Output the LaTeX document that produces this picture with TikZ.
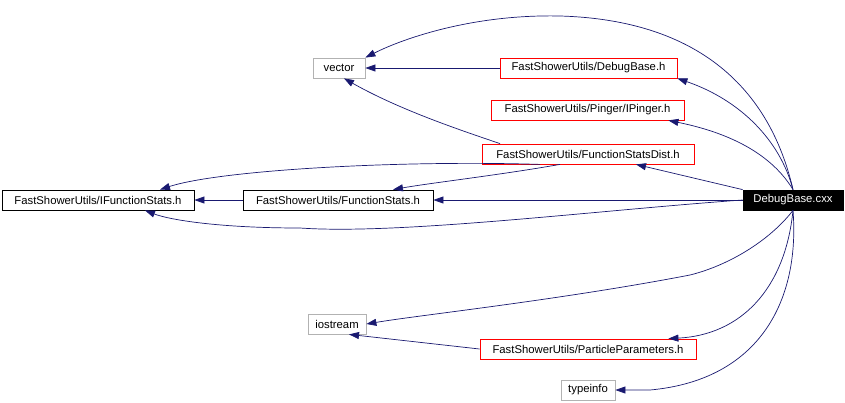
\documentclass[tikz,border=0pt]{standalone}
\usepackage{fontspec}
\setmainfont{Liberation Sans}
\usetikzlibrary{arrows.meta}
\definecolor{edge}{HTML}{191970}
\tikzset{
 box/.style={draw,rectangle,inner sep=0pt,minimum height=20pt,font=\fontsize{11.3}{12}\selectfont,line width=0.8pt},
 gbox/.style={box,draw=gray!60},
 rbox/.style={box,draw=red},
 kbox/.style={box,draw=black},
 dep/.style={draw=edge,line width=0.7pt,-{Triangle[length=10pt,width=7pt,fill=edge]}}
}
\begin{document}
\begin{tikzpicture}[x=1pt,y=-1pt]
\useasboundingbox (0,0) rectangle (845,402);
\node[gbox,minimum width=52pt] (vec) at (339,68) {vector};
\node[rbox,minimum width=177pt] (dbh) at (588.5,68) {FastShowerUtils/DebugBase.h};
\node[rbox,minimum width=193pt] (ip) at (587.5,110) {FastShowerUtils/Pinger/IPinger.h};
\node[rbox,minimum width=212pt] (fsd) at (588,154) {FastShowerUtils/FunctionStatsDist.h};
\node[box,fill=black,text=white,minimum width=100pt] (cxx) at (793,200) {DebugBase.cxx};
\node[kbox,minimum width=192pt] (ifs) at (98,200) {FastShowerUtils/IFunctionStats.h};
\node[kbox,minimum width=190pt] (fs) at (338,200) {FastShowerUtils/FunctionStats.h};
\node[gbox,minimum width=58pt] (io) at (337,324) {iostream};
\node[rbox,minimum width=216pt] (pp) at (588,349) {FastShowerUtils/ParticleParameters.h};
\node[gbox,minimum width=54pt] (ti) at (588,390) {typeinfo};

\draw[dep] (cxx.north) .. controls (770,90) and (700,20) .. (560,16) .. controls (470,14) and (400,40) .. (vec.north east);
\draw[dep] (cxx.north) .. controls (780,140) and (740,100) .. (dbh.south east);
\draw[dep] (cxx.north) .. controls (775,160) and (740,135) .. ([xshift=-16pt]ip.south east);
\draw[dep] (cxx.north west) -- ([xshift=48pt]fsd.south);
\draw[dep] (cxx.west) -- (fs.east);
\draw[dep] (cxx.west) .. controls (600,210) and (400,235) .. (300,228) .. controls (220,228) and (170,220) .. ([xshift=47pt]ifs.south);
\draw[dep] (cxx.south) .. controls (770,240) and (730,265) .. (690,275) .. controls (560,300) and (420,315) .. (io.east);
\draw[dep] (cxx.south) .. controls (785,290) and (740,335) .. ([xshift=-28pt]pp.north east);
\draw[dep] (cxx.south) .. controls (800,300) and (760,380) .. (650,390) -- (ti.east);
\draw[dep] (dbh.west) -- (vec.east);
\draw[dep] ([xshift=-88pt]fsd.north) .. controls (460,130) and (400,110) .. ([xshift=5pt]vec.south);
\draw[dep] ([xshift=-48pt]fsd.south) .. controls (400,160) and (220,170) .. ([xshift=62pt]ifs.north);
\draw[dep] ([xshift=-28pt]fsd.south) .. controls (500,175) and (430,183) .. ([xshift=55pt]fs.north);
\draw[dep] (fs.west) -- (ifs.east);
\draw[dep] (pp.west) -- ([xshift=12pt]io.south);
\end{tikzpicture}
\end{document}
